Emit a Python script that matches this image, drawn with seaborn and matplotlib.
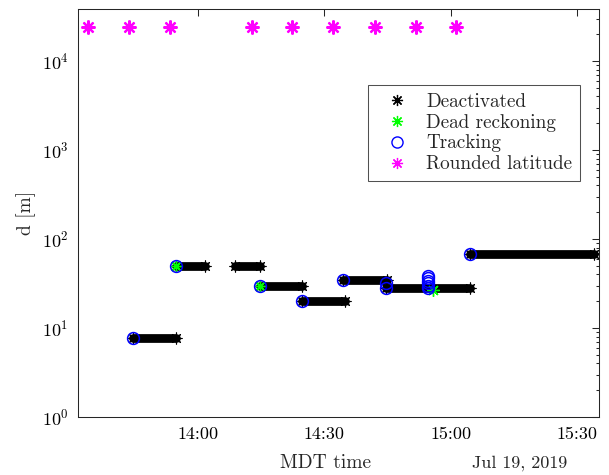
import numpy as np
import pandas as pd
import matplotlib
matplotlib.use("Agg")
import matplotlib.pyplot as plt
import matplotlib.dates as mdates
import seaborn as sns
from matplotlib.lines import Line2D
from matplotlib.ticker import LogLocator, NullFormatter, FixedLocator

DAY = "2019-07-19 "

# Deactivated segments (constant distance between start and end)
deact_start = ["13:44:36", "13:54:48", "14:08:48", "14:14:36", "14:24:36", "14:34:30", "14:44:42", "15:04:36"]
deact_end   = ["13:54:48", "14:01:42", "14:14:42", "14:24:36", "14:34:54", "14:44:48", "15:04:36", "15:33:54"]
deact_value = [7.8, 50, 50, 30, 20, 35, 28, 68]

# Dead reckoning
dr_time  = ["13:54:48", "14:14:36", "14:55:45"]
dr_value = [50, 30, 26.7]

# Tracking
trk_time  = ["13:44:36", "13:54:48", "14:14:36", "14:24:36", "14:34:30",
             "14:44:42", "14:44:42", "14:54:34", "14:54:34", "14:54:34",
             "14:54:34", "14:54:34", "14:54:34", "15:04:36"]
trk_value = [7.8, 50, 30, 20, 35,
             32, 28, 38.5, 36, 34,
             32, 30, 28.5, 68]

# Rounded latitude
lat_time  = ["13:33:54", "13:43:36", "13:53:18", "14:12:48", "14:22:24",
             "14:32:06", "14:41:54", "14:51:42", "15:01:18"]
lat_value = [24300, 24300, 24300, 24300, 24300, 24300, 24300, 24300, 24300]

xlim = ["13:31:36", "15:35:12"]
ylim = [1, 38100]
xticks = ["14:00", "14:30", "15:00", "15:30"]

sns.set_style("white")
plt.rcParams["font.family"] = ["cmr10", "DejaVu Serif"]
plt.rcParams["mathtext.fontset"] = "cm"
plt.rcParams["axes.unicode_minus"] = False
plt.rcParams["axes.formatter.use_mathtext"] = True

def ts(lst):
    return pd.to_datetime([DAY + t for t in lst])

seg_df = pd.DataFrame({
    "time": list(ts(deact_start)) + list(ts(deact_end)),
    "d": deact_value + deact_value,
    "seg": list(range(len(deact_value))) * 2,
})
dr_df = pd.DataFrame({"time": ts(dr_time), "d": dr_value})
trk_df = pd.DataFrame({"time": ts(trk_time), "d": trk_value})
lat_df = pd.DataFrame({"time": ts(lat_time), "d": lat_value})

fig = plt.figure(figsize=(6.09, 4.75), dpi=100)
ax = fig.add_axes([78.3 / 609, 1 - 417 / 475, (599.3 - 78.3) / 609, (417 - 9.3) / 475])
ax.set_yscale("log")

ast = (8, 2, 0)
AXC = "#262626"

sns.lineplot(data=seg_df, x="time", y="d", units="seg", estimator=None,
             color="black", lw=6.3, marker=ast, markersize=8.5, mew=0.8,
             mec="black", ax=ax, legend=False, sort=True)
sns.lineplot(data=lat_df, x="time", y="d", color="#ff00ff", lw=0,
             marker=ast, markersize=10, mew=1.6, mec="#ff00ff", ax=ax,
             legend=False, estimator=None)
sns.lineplot(data=dr_df, x="time", y="d", color="#00ff00", lw=0,
             marker=ast, markersize=9, mew=1.0, mec="#00ff00", ax=ax,
             legend=False, estimator=None)
sns.lineplot(data=trk_df, x="time", y="d", color="blue", lw=0,
             marker="o", markersize=8.5, mew=1.1, mfc="none", mec="blue",
             ax=ax, legend=False, estimator=None)

ax.set_xlim(ts(xlim)[0], ts(xlim)[1])
ax.set_ylim(*ylim)
ax.xaxis.set_major_locator(FixedLocator(mdates.date2num(ts(xticks))))
ax.xaxis.set_major_formatter(mdates.DateFormatter("%H:%M"))
ax.yaxis.set_major_locator(LogLocator(base=10, numticks=10))
ax.yaxis.set_minor_locator(LogLocator(base=10, subs=np.arange(2, 10), numticks=20))
ax.yaxis.set_minor_formatter(NullFormatter())

ax.tick_params(which="both", direction="in", top=True, right=True,
               colors=AXC, labelcolor="black", width=0.75)
ax.tick_params(which="major", length=5, labelsize=13, pad=7)
ax.tick_params(which="minor", length=2.5)
ax.tick_params(axis="x", which="minor", length=0)
for s in ax.spines.values():
    s.set_color(AXC)
    s.set_linewidth(0.75)

ax.set_xlabel("MDT time", fontsize=14, labelpad=2)
ax.xaxis.set_label_coords((325.7 - 78.3) / 521.0, -0.09)
ax.set_ylabel("d [m]", fontsize=14, labelpad=4)
fig.text(519.7 / 609, 1 - 463 / 475, "Jul 19, 2019", ha="center", va="center", fontsize=13)

handles = [
    Line2D([], [], ls="none", marker=ast, color="black", mec="black", markersize=8, mew=0.9),
    Line2D([], [], ls="none", marker=ast, color="#00ff00", mec="#00ff00", markersize=8, mew=0.9),
    Line2D([], [], ls="none", marker="o", mfc="none", mec="blue", markersize=8, mew=1.0),
    Line2D([], [], ls="none", marker=ast, color="#ff00ff", mec="#ff00ff", markersize=8, mew=0.9),
]
labels = ["Deactivated", "Dead reckoning", "Tracking", "Rounded latitude"]
leg = ax.legend(handles, labels, loc="upper left", bbox_to_anchor=(0.556, 0.814),
                borderaxespad=0, frameon=True, fancybox=False, fontsize=13.8,
                handletextpad=0.4, labelspacing=0.15, borderpad=0.4,
                handlelength=2.25)
leg.get_frame().set_edgecolor(AXC)
leg.get_frame().set_linewidth(0.75)

fig.savefig("out.png", dpi=100)
